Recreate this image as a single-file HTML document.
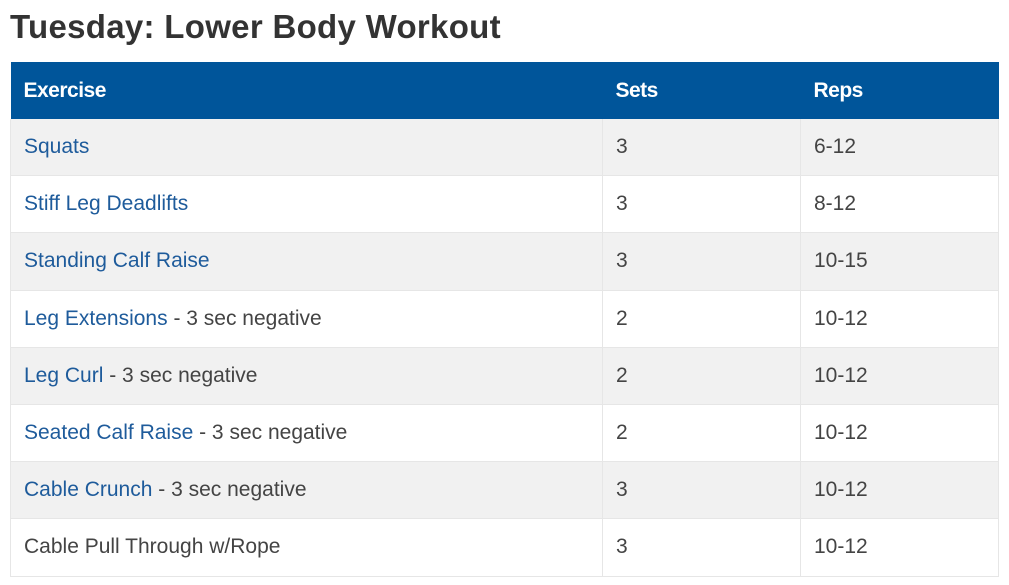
<!DOCTYPE html>
<html><head><meta charset="utf-8"><style>
body{margin:0;background:#fff;width:1009px;height:585px;overflow:hidden;font-family:"Liberation Sans",sans-serif;}
h1{position:absolute;left:10px;top:8px;margin:0;font-size:33px;font-weight:bold;color:#333;letter-spacing:0.3px}
table{position:absolute;left:10px;top:62px;width:989px;border-collapse:collapse;}
th{background:#00559a;color:#fff;text-align:left;font-size:21px;font-weight:bold;height:57px;padding:0 0 0 13px;letter-spacing:-0.5px}
td{height:56.2px;padding:0 0 0 13px;font-size:21px;color:#444;border:1px solid #e6e6e6;border-top:0}
tr:nth-child(odd) td{background:#f1f1f1}
a{color:#1e5b9b;text-decoration:none}
.c1{width:579px}.c2{width:185px}
</style></head><body>
<h1>Tuesday: Lower Body Workout</h1>
<table>
<thead><tr><th class="c1">Exercise</th><th class="c2">Sets</th><th>Reps</th></tr></thead>
<tbody>
<tr><td><a href="#">Squats</a></td><td>3</td><td>6-12</td></tr>
<tr><td><a href="#">Stiff Leg Deadlifts</a></td><td>3</td><td>8-12</td></tr>
<tr><td><a href="#">Standing Calf Raise</a></td><td>3</td><td>10-15</td></tr>
<tr><td><a href="#">Leg Extensions</a> - 3 sec negative</td><td>2</td><td>10-12</td></tr>
<tr><td><a href="#">Leg Curl</a> - 3 sec negative</td><td>2</td><td>10-12</td></tr>
<tr><td><a href="#">Seated Calf Raise</a> - 3 sec negative</td><td>2</td><td>10-12</td></tr>
<tr><td><a href="#">Cable Crunch</a> - 3 sec negative</td><td>3</td><td>10-12</td></tr>
<tr><td>Cable Pull Through w/Rope</td><td>3</td><td>10-12</td></tr>
</tbody></table>
</body></html>
